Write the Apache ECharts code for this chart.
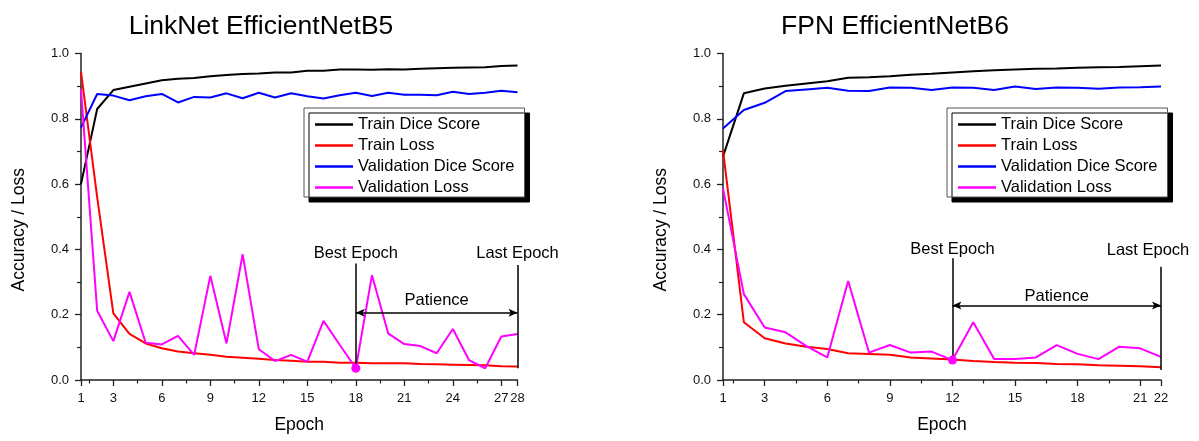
<!DOCTYPE html>
<html><head><meta charset="utf-8">
<script src="https://cdn.jsdelivr.net/npm/echarts@6/dist/echarts.min.js"></script>
<style>html,body{margin:0;padding:0;background:#fff}#c{width:1199px;height:441px}</style>
</head><body><div id="c"></div>
<script>
// ---- Left chart: LinkNet EfficientNetB5 ----
const titleA = 'LinkNet EfficientNetB5';
const epochsA = [1,2,3,4,5,6,7,8,9,10,11,12,13,14,15,16,17,18,19,20,21,22,23,24,25,26,27,28];
const trainDiceA = [0.600,0.830,0.888,0.898,0.908,0.918,0.923,0.925,0.930,0.934,0.937,0.939,0.942,0.942,0.947,0.947,0.951,0.951,0.950,0.952,0.951,0.953,0.955,0.956,0.957,0.958,0.962,0.963];
const trainLossA = [0.944,0.560,0.204,0.141,0.112,0.097,0.087,0.082,0.077,0.071,0.068,0.065,0.061,0.059,0.056,0.056,0.053,0.053,0.051,0.051,0.051,0.049,0.048,0.047,0.046,0.045,0.042,0.041];
const valDiceA = [0.773,0.876,0.871,0.857,0.869,0.876,0.850,0.867,0.865,0.878,0.863,0.880,0.865,0.878,0.869,0.862,0.872,0.880,0.870,0.880,0.874,0.874,0.872,0.883,0.876,0.880,0.886,0.881];
const valLossA = [0.890,0.212,0.119,0.270,0.114,0.109,0.135,0.077,0.319,0.112,0.385,0.094,0.058,0.077,0.056,0.181,0.108,0.036,0.321,0.143,0.110,0.104,0.082,0.156,0.061,0.036,0.133,0.141];
const xTickLabelsA = [1,3,6,9,12,15,18,21,24,27,28];
const bestEpochA = 18, lastEpochA = 28;

// ---- Right chart: FPN EfficientNetB6 ----
const titleB = 'FPN EfficientNetB6';
const epochsB = [1,2,3,4,5,6,7,8,9,10,11,12,13,14,15,16,17,18,19,20,21,22];
const trainDiceB = [0.684,0.878,0.893,0.901,0.908,0.915,0.926,0.927,0.930,0.935,0.938,0.942,0.946,0.949,0.951,0.953,0.954,0.956,0.958,0.959,0.961,0.963];
const trainLossB = [0.704,0.177,0.128,0.112,0.102,0.095,0.082,0.080,0.077,0.069,0.066,0.063,0.058,0.055,0.053,0.052,0.049,0.048,0.045,0.044,0.042,0.039];
const valDiceB = [0.770,0.827,0.849,0.885,0.890,0.895,0.886,0.885,0.896,0.895,0.888,0.896,0.895,0.888,0.899,0.891,0.896,0.895,0.892,0.896,0.897,0.899];
const valLossB = [0.587,0.263,0.161,0.146,0.104,0.069,0.303,0.084,0.107,0.084,0.087,0.061,0.177,0.064,0.064,0.069,0.107,0.080,0.064,0.102,0.097,0.071];
const xTickLabelsB = [1,3,6,9,12,15,18,21,22];
const bestEpochB = 12, lastEpochB = 22;

// Annotation levels (value units): [left, right]
const annotTopBest = [0.357, 0.373];
const annotTopLast = [0.352, 0.347];
const annotBottomLast = [0.036, 0.031];
const annotArrow = [0.206, 0.228];

const seriesNames = ['Train Dice Score','Train Loss','Validation Dice Score','Validation Loss'];
const seriesColors = ['#000000','#ff0000','#0000ff','#ff00ff'];

const FONT = 'Liberation Sans, Arial, sans-serif';
const AX = '#222';

// per-chart label tweaks (style only)
const labelTweaks = [
  {bestDist:1, lastDist:3, lastPad:[0,0,0,0], patDist:4},
  {bestDist:0, lastDist:8, lastPad:[0,26,0,0], patDist:1}
];

function pairs(xs, ys){ return xs.map((x,i)=>[x, ys[i]]); }
function minorTicks(maxE){ const r=[]; for(let v=1.5; v<maxE; v+=3) r.push(v); return r; }

const grids = [
  {left: 81, top: 53.5, width: 436.5, height: 326.5},
  {left: 723, top: 53.5, width: 438, height: 326.5}
];

function xAxes(g, maxE, labels){
  return [{
    type:'value', gridIndex:g, min:1, max:maxE, position:'bottom',
    name:'Epoch', nameLocation:'middle', nameGap:36,
    nameTextStyle:{fontFamily:FONT, fontSize:17.5, color:'#000'},
    axisLine:{show:true, onZero:false, lineStyle:{color:AX, width:1.5}},
    axisTick:{show:true, inside:false, length:6, customValues:labels, lineStyle:{color:AX, width:1.3}},
    axisLabel:{show:true, customValues:labels, margin:12, fontFamily:FONT, fontSize:13, color:'#111'},
    splitLine:{show:false}
  },{
    type:'value', gridIndex:g, min:1, max:maxE, position:'bottom',
    axisLine:{show:false},
    axisTick:{show:true, inside:false, length:3.5, customValues:minorTicks(maxE), lineStyle:{color:AX, width:1.2}},
    axisLabel:{show:false}, splitLine:{show:false}
  }];
}
function yAxis(g){
  return {
    type:'value', gridIndex:g, min:0, max:1, interval:0.2,
    name:'Accuracy / Loss', nameLocation:'middle', nameGap:53,
    nameTextStyle:{fontFamily:FONT, fontSize:17.5, color:'#000', padding:[0,26,0,0]},
    axisLine:{show:true, onZero:false, lineStyle:{color:AX, width:1.5}},
    axisTick:{show:true, inside:false, length:6, lineStyle:{color:AX, width:1.3}},
    minorTick:{show:true, splitNumber:2, length:4, lineStyle:{color:AX, width:1.2}},
    axisLabel:{margin:12, fontFamily:FONT, fontSize:13, color:'#111', formatter:v=>v.toFixed(1)},
    splitLine:{show:false}
  };
}

const labelStyle = {fontFamily:FONT, fontSize:16.5, color:'#000'};

function chartSeries(g, epochs, arrs, best, last, k){
  const tw = labelTweaks[k];
  const out = arrs.map((arr, i)=>({
    type:'line', name:seriesNames[i], xAxisIndex:g*2, yAxisIndex:g,
    data:pairs(epochs, arr), showSymbol:false, symbol:'none', smooth:false,
    lineStyle:{color:seriesColors[i], width:2}, itemStyle:{color:seriesColors[i]},
    animation:false, silent:true
  }));
  const vl = arrs[3];
  const bestVal = vl[epochs.indexOf(best)];
  const lastVal = annotBottomLast[k];
  out[3].markPoint = {
    silent:true, animation:false, symbol:'circle', symbolSize:9,
    itemStyle:{color:'#ff00ff'}, label:{show:false},
    data:[{coord:[best, bestVal]}]
  };
  out[3].markLine = {
    silent:true, animation:false, symbol:['none','none'],
    lineStyle:{color:'#000', width:1.5, type:'solid'},
    label:Object.assign({show:true}, labelStyle),
    data:[
      [{coord:[best, bestVal], label:Object.assign({show:true, position:'end', formatter:'Best Epoch', distance:tw.bestDist}, labelStyle)},
       {coord:[best, annotTopBest[k]]}],
      [{coord:[last, lastVal], label:Object.assign({show:true, position:'end', formatter:'Last Epoch', distance:tw.lastDist, padding:tw.lastPad}, labelStyle)},
       {coord:[last, annotTopLast[k]]}],
      [{coord:[best, annotArrow[k]], symbol:'arrow', symbolSize:[6,9],
        label:Object.assign({show:true, position:'insideMiddleTop', formatter:'Patience', distance:tw.patDist}, labelStyle)},
       {coord:[last, annotArrow[k]], symbol:'arrow', symbolSize:[6,9]}]
    ]
  };
  return out;
}

function legend(left){
  return {
    orient:'vertical', left:left, top:108, data:seriesNames,
    icon:'rect', itemWidth:38, itemHeight:2.5, itemGap:4, itemTextGap:5,
    padding:[8,10,1,11], backgroundColor:'#fff', borderColor:'#555', borderWidth:1,
    shadowColor:'#000', shadowBlur:0, shadowOffsetX:5, shadowOffsetY:5,
    textStyle:{fontFamily:FONT, fontSize:16.5, color:'#000'},
    selectedMode:false
  };
}

const option = {
  backgroundColor:'#fff',
  animation:false,
  title:[
    {text:titleA, left:256, top:8, textAlign:'center', textStyle:{fontFamily:FONT, fontSize:26.5, fontWeight:'normal', color:'#000'}},
    {text:titleB, left:890, top:8, textAlign:'center', textStyle:{fontFamily:FONT, fontSize:26.5, fontWeight:'normal', color:'#000'}}
  ],
  legend:[legend(304), legend(947)],
  grid:grids.map(g=>Object.assign({outerBoundsMode:'none'}, g)),
  xAxis:[...xAxes(0, 28, xTickLabelsA), ...xAxes(1, 22, xTickLabelsB)],
  yAxis:[yAxis(0), yAxis(1)],
  series:[
    ...chartSeries(0, epochsA, [trainDiceA, trainLossA, valDiceA, valLossA], bestEpochA, lastEpochA, 0),
    ...chartSeries(1, epochsB, [trainDiceB, trainLossB, valDiceB, valLossB], bestEpochB, lastEpochB, 1)
  ]
};
const chart = echarts.init(document.getElementById('c'), null, {renderer:'canvas'});
chart.setOption(option);
</script></body></html>
